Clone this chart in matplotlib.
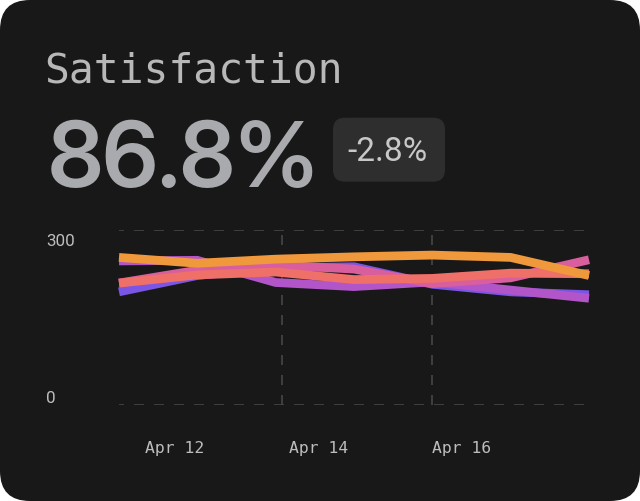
import matplotlib
matplotlib.use("Agg")
import matplotlib.pyplot as plt
from matplotlib.patches import FancyBboxPatch
import matplotlib.transforms as mtransforms

plt.rcParams['lines.scale_dashes'] = False

# ---------------- data ----------------
dates = ['Apr 11', 'Apr 12', 'Apr 13', 'Apr 14', 'Apr 15', 'Apr 16', 'Apr 17']
series_blue = [194, 222, 235, 237, 207, 194, 189]
series_purple = [247, 248, 210, 203, 211, 197, 183]
series_pink = [209, 231, 240, 233, 208, 218, 249]
series_coral = [209, 223, 228, 215, 217, 226, 225]
series_orange = [253, 243, 250, 254, 257, 253, 222]

colors = ['#7B55E6', '#B155C9', '#D85E9E', '#EF6F69', '#F0983C']

xtick_labels = ['Apr 12', 'Apr 14', 'Apr 16']
xtick_pos = [0.709, 2.544, 4.379]
vgrid_pos = [2.08, 4.0]
ytick_vals = [0, 300]
ytick_labels = ['0', '300']

title = 'Satisfaction'
big_value = '86.8%'
delta = '-2.8%'

# ---------------- figure ----------------
W, H = 640, 501
fig = plt.figure(figsize=(W / 100, H / 100), dpi=100)
fig.patch.set_facecolor('white')

card = FancyBboxPatch((0, 0), W / 100, H / 100,
                      boxstyle='round,pad=0,rounding_size=0.30',
                      transform=fig.dpi_scale_trans,
                      facecolor='#181818', edgecolor='none', zorder=0)
fig.patches.append(card)


def fx(px):
    return px / W


def fy(py):
    return 1 - py / H


# axes area in pixels
ax_l, ax_r, ax_t, ax_b = 119, 589, 230, 405
ax = fig.add_axes([fx(ax_l), fy(ax_b), (ax_r - ax_l) / W, (ax_b - ax_t) / H])
ax.set_zorder(5)
ax.set_facecolor('none')
for s in ax.spines.values():
    s.set_visible(False)
ax.set_xlim(0, len(dates) - 1)
ax.set_ylim(min(ytick_vals), max(ytick_vals))
ax.set_xticks([])
ax.set_yticks([])

grid_kw = dict(color='#4A4A4A', lw=1.1, zorder=1, linestyle=(3.6, (7.2, 7.2)))
for yv in ytick_vals:
    ax.axhline(yv, **grid_kw)
for xv in vgrid_pos:
    ax.axvline(xv, color='#4A4A4A', lw=1.1, zorder=1, linestyle=(0, (7.2, 7.2)))

xs = list(range(len(dates)))
for vals, c in zip([series_blue, series_purple, series_pink, series_coral, series_orange], colors):
    ax.plot(xs, vals, color=c, lw=6.3, solid_capstyle='butt',
            solid_joinstyle='miter', clip_on=False, zorder=3)


def ay(py):
    return (ax_b - py) / (ax_b - ax_t)


trans_x = mtransforms.blended_transform_factory(ax.transData, ax.transAxes)
for pos, lab in zip(xtick_pos, xtick_labels):
    ax.text(pos, ay(452.5), lab, transform=trans_x, ha='center', va='baseline',
            fontsize=11.8, family='DejaVu Sans Mono', color='#BDBDBD', clip_on=False)

ybase = {0: 403, 300: 246}
for v, lab in zip(ytick_vals, ytick_labels):
    fig.text(fx(46), fy(ybase[v]), lab, ha='left', va='baseline',
             fontsize=12.2, family='Roboto', color='#BDBDBD')

# header texts
fig.text(fx(44), fy(83), title, ha='left', va='baseline', fontsize=29.8,
         family='DejaVu Sans Mono', color='#B8B8B8')
fig.text(fx(48), fy(187), big_value, ha='left', va='baseline', fontsize=66,
         family='Inter Display', fontweight=600, color='#A9AAAE')

badge = FancyBboxPatch((3.33, (H - 181.7) / 100), 1.12, 0.64,
                       boxstyle='round,pad=0,rounding_size=0.12',
                       transform=fig.dpi_scale_trans,
                       facecolor='#2E2E2E', edgecolor='none', zorder=1)
fig.patches.append(badge)
fig.text(fx(388), fy(161), delta, ha='center', va='baseline', fontsize=24,
         family='Roboto', color='#C8C8C8', zorder=6)

fig.savefig('out.png', dpi=100, facecolor=fig.get_facecolor())
